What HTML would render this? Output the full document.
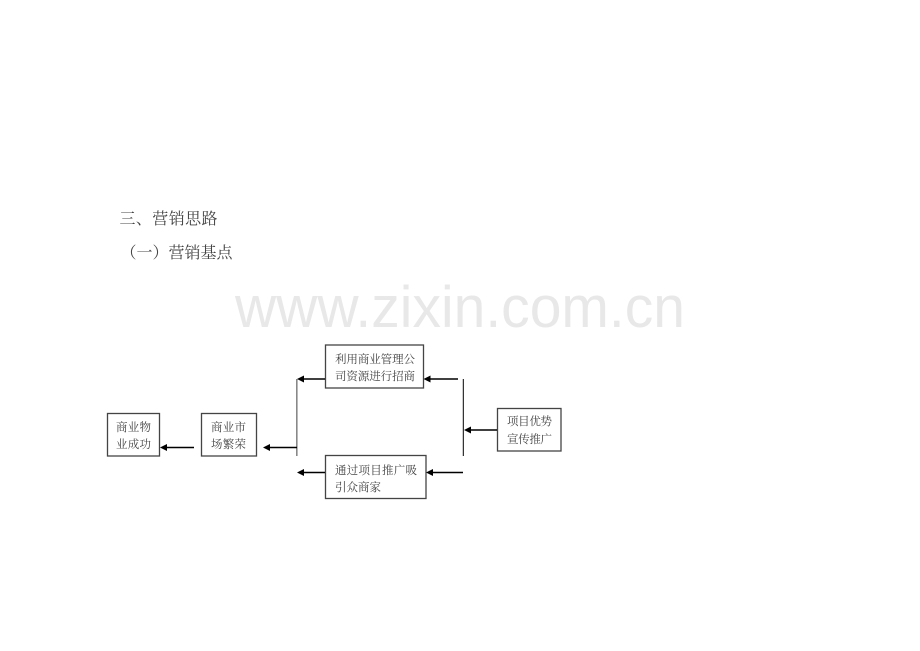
<!DOCTYPE html>
<html>
<head>
<meta charset="utf-8">
<style>
html,body{margin:0;padding:0;background:#fff;width:920px;height:651px;overflow:hidden}
svg{display:block}
.c{font-family:"Liberation Serif","Noto Serif CJK SC",serif;fill:#444}
.h{font-size:16px}
.t{font-size:11.5px}
.b{fill:#fff;stroke:#444;stroke-width:1.3}
.l{stroke:#000;stroke-width:1.4;fill:none}
</style>
</head>
<body>
<svg width="920" height="651" viewBox="0 0 920 651" xmlns="http://www.w3.org/2000/svg">
<text x="235" y="327" font-family="Liberation Sans, sans-serif" font-size="58" fill="#e8e8e8" textLength="450" lengthAdjust="spacingAndGlyphs">www.zixin.com.cn</text>

<text class="c h" x="119.5" y="224" textLength="98">三、营销思路</text>
<text class="c h" x="120.5" y="258" textLength="112">（一）营销基点</text>

<rect class="b" x="107.5" y="413.5" width="52" height="42.5"/>
<rect class="b" x="201.5" y="413.5" width="55" height="42.5"/>
<rect class="b" x="325.5" y="345" width="98" height="43"/>
<rect class="b" x="325.5" y="455.5" width="100.5" height="43"/>
<rect class="b" x="497.5" y="408.5" width="63.5" height="42.5"/>

<text class="c t" x="116" y="431" textLength="35">商业物</text>
<text class="c t" x="116" y="448" textLength="35">业成功</text>
<text class="c t" x="211" y="431" textLength="35">商业市</text>
<text class="c t" x="211" y="448" textLength="35">场繁荣</text>
<text class="c t" x="335" y="363" textLength="80">利用商业管理公</text>
<text class="c t" x="335" y="380" textLength="80">司资源进行招商</text>
<text class="c t" x="335" y="474" textLength="82">通过项目推广吸</text>
<text class="c t" x="335" y="491" textLength="46">引众商家</text>
<text class="c t" x="507" y="425" textLength="45">项目优势</text>
<text class="c t" x="507" y="443" textLength="45">宣传推广</text>

<line x1="296.8" y1="379" x2="296.8" y2="456" stroke="#888" stroke-width="1.6"/>
<line x1="463.3" y1="379" x2="463.3" y2="456" stroke="#000" stroke-width="1"/>

<line class="l" x1="194" y1="447.5" x2="165" y2="447.5"/>
<polygon points="160,447.5 167,444 167,451"/>
<line class="l" x1="297" y1="447.5" x2="268" y2="447.5"/>
<polygon points="263,447.5 270,444 270,451"/>
<line class="l" x1="325" y1="379" x2="302" y2="379"/>
<polygon points="297,379 304,375.5 304,382.5"/>
<line class="l" x1="325" y1="472.5" x2="302" y2="472.5"/>
<polygon points="297,472.5 304,469 304,476"/>
<line class="l" x1="458" y1="379" x2="429" y2="379"/>
<polygon points="423.5,379 430.5,375.5 430.5,382.5"/>
<line class="l" x1="463" y1="472.5" x2="431" y2="472.5"/>
<polygon points="426,472.5 433,469 433,476"/>
<line class="l" x1="497" y1="430" x2="469" y2="430"/>
<polygon points="464,430 471,426.5 471,433.5"/>
</svg>
</body>
</html>
